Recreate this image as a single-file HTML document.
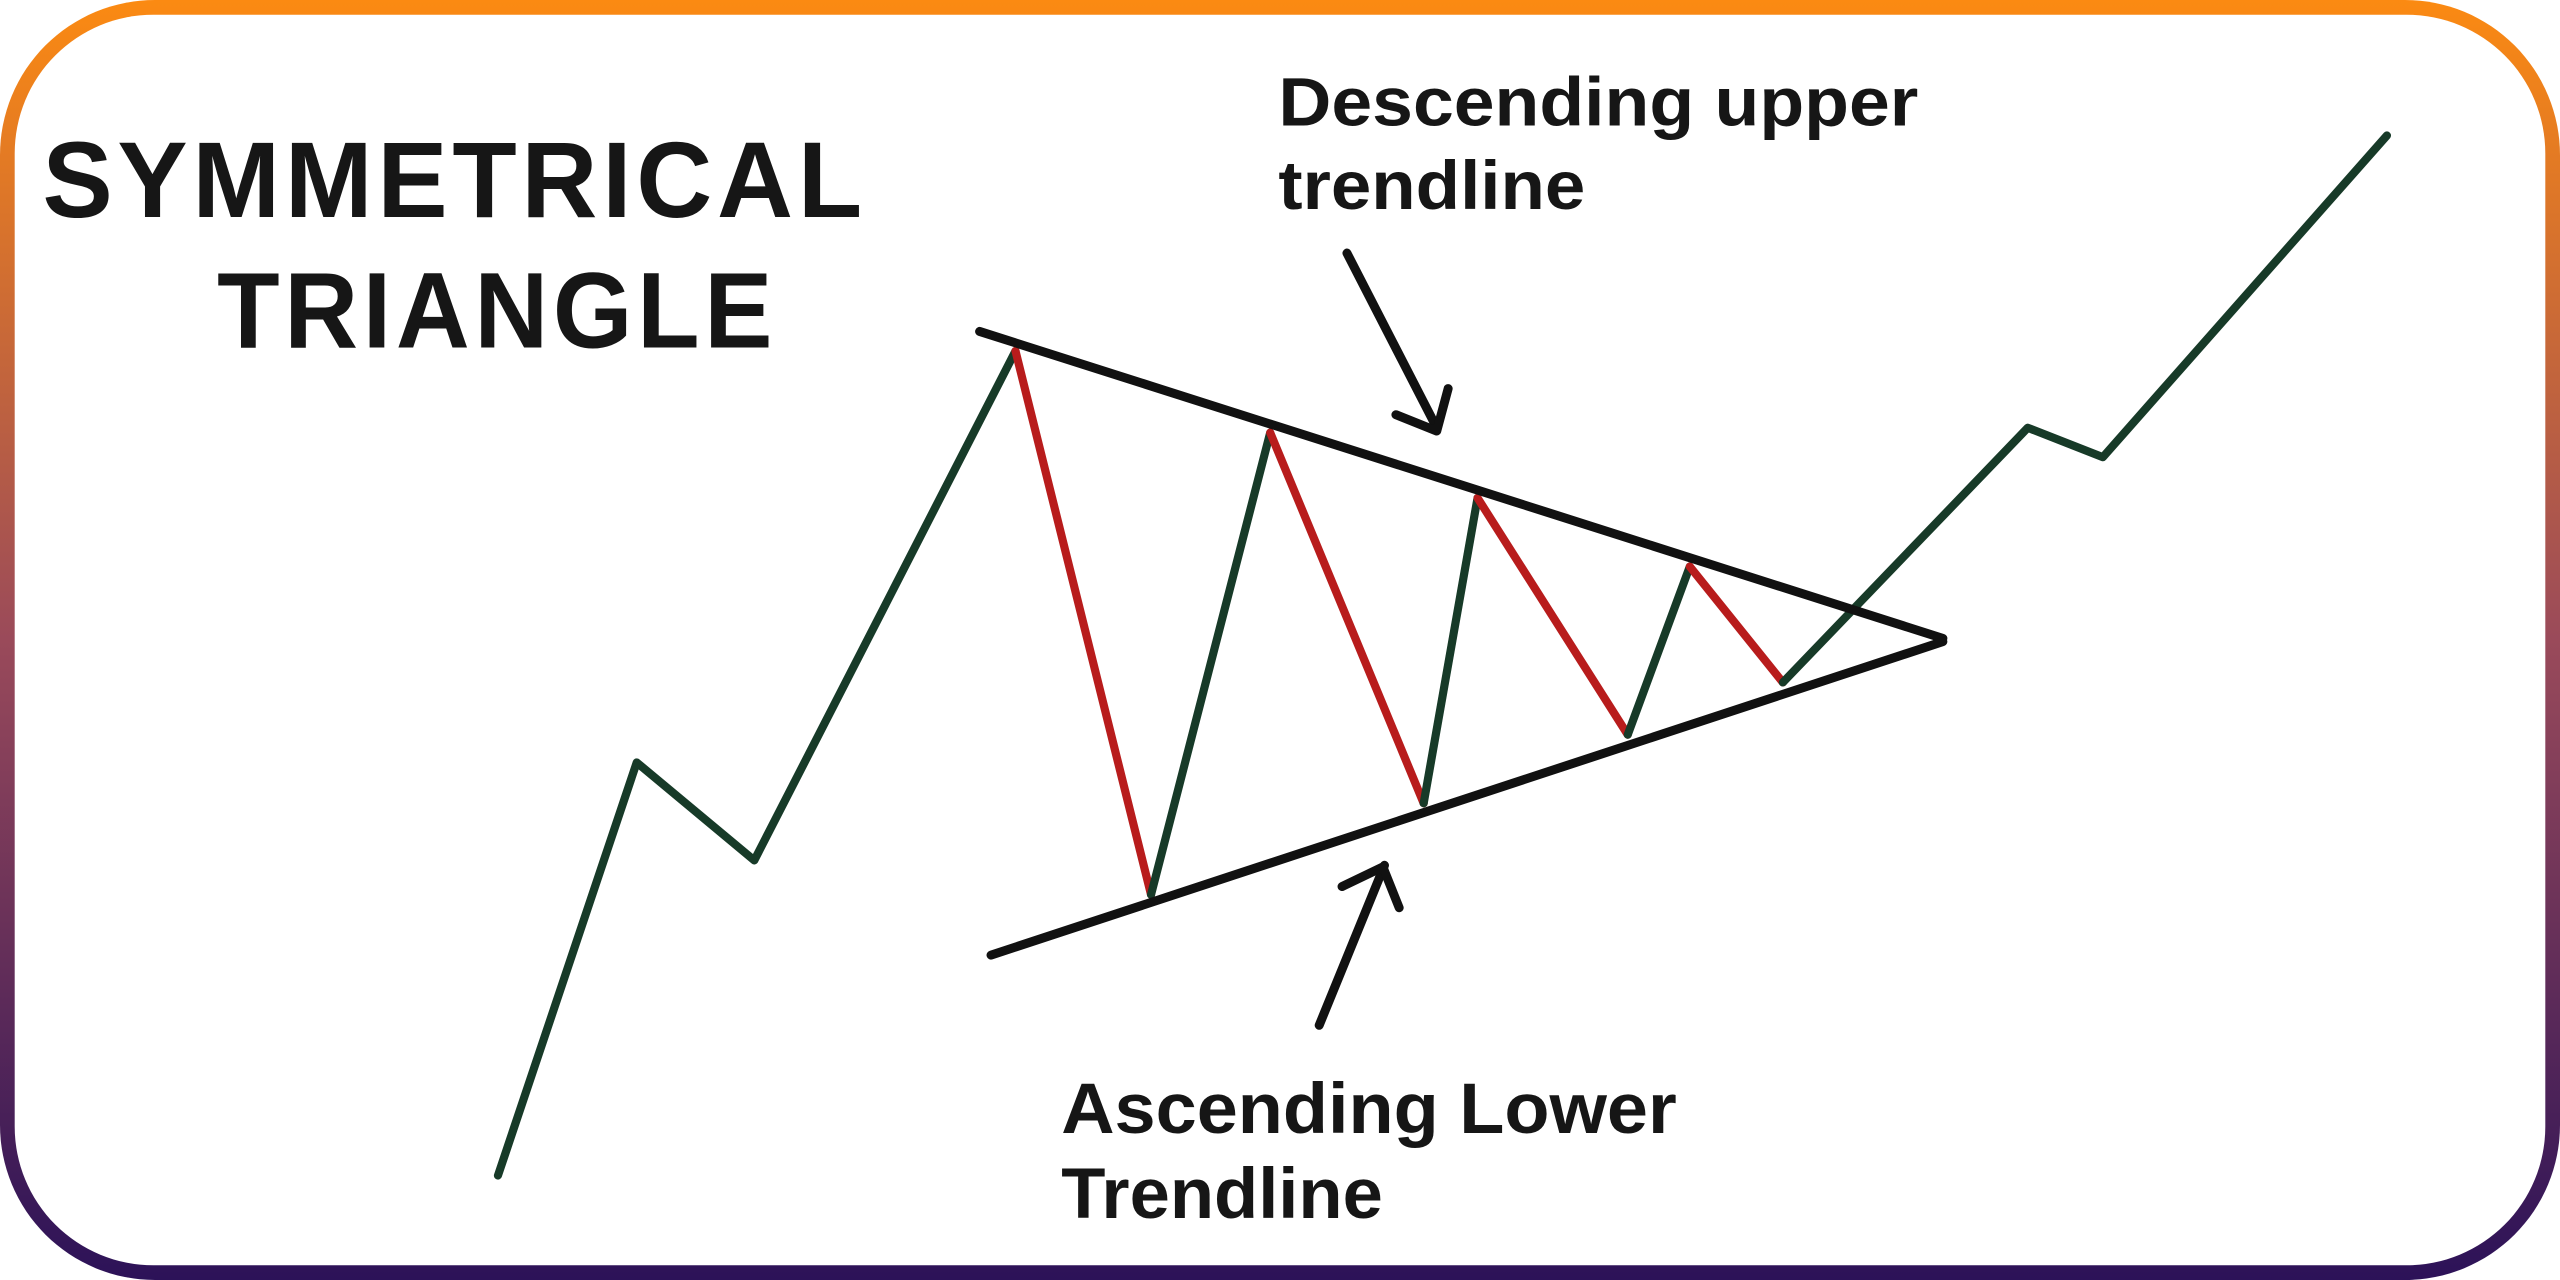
<!DOCTYPE html>
<html><head><meta charset="utf-8"><style>
html,body{margin:0;padding:0;background:#fff;}
svg{display:block;}
</style></head><body>
<svg width="2560" height="1280" viewBox="0 0 1568 784" xmlns="http://www.w3.org/2000/svg">
<defs>
<linearGradient id="g" x1="0" y1="0" x2="0" y2="1">
<stop offset="0" stop-color="#fb8a12"/>
<stop offset="0.5" stop-color="#9a4a5a"/>
<stop offset="1" stop-color="#2c1258"/>
</linearGradient>
</defs>
<rect x="0" y="0" width="1568" height="784" fill="url(#g)" rx="95"/>
<rect x="9" y="9" width="1550" height="766" fill="#fff" rx="85"/>
<g font-family="Liberation Sans, sans-serif" font-weight="bold" fill="#161616">
<text x="26" y="133" font-size="66" letter-spacing="3" textLength="505" lengthAdjust="spacingAndGlyphs">SYMMETRICAL</text>
<text x="133" y="213" font-size="66" letter-spacing="3" textLength="343" lengthAdjust="spacingAndGlyphs">TRIANGLE</text>
<text x="783" y="77" font-size="42" textLength="392" lengthAdjust="spacingAndGlyphs">Descending upper</text>
<text x="783" y="128" font-size="42" textLength="188" lengthAdjust="spacingAndGlyphs">trendline</text>
<text x="650" y="694" font-size="44" textLength="377" lengthAdjust="spacingAndGlyphs">Ascending Lower</text>
<text x="650" y="746" font-size="44" textLength="197" lengthAdjust="spacingAndGlyphs">Trendline</text>
</g>
<g fill="none" stroke-linecap="round" stroke-linejoin="round" stroke-width="5">
<polyline stroke="#173a28" points="305,720 390,467 462,527 622,215"/>
<polyline stroke="#b81c1c" points="622,215 705,548"/>
<polyline stroke="#173a28" points="705,548 778,265"/>
<polyline stroke="#b81c1c" points="778,265 872,492"/>
<polyline stroke="#173a28" points="872,492 905,305"/>
<polyline stroke="#b81c1c" points="905,305 997,450"/>
<polyline stroke="#173a28" points="997,450 1035,347"/>
<polyline stroke="#b81c1c" points="1035,347 1092,418"/>
<polyline stroke="#173a28" points="1092,418 1242,262 1288,280 1462,83"/>
<g stroke="#111" stroke-width="5.5">
<line x1="600" y1="203" x2="1190" y2="391"/>
<line x1="607" y1="585" x2="1190" y2="393"/>
<line x1="825" y1="155" x2="880" y2="262"/>
<polyline points="855,254 880,264 887,238"/>
<line x1="808" y1="628" x2="848" y2="530"/>
<polyline points="822,543 847,531 857,556"/>
</g>
</g>
</svg>
</body></html>
